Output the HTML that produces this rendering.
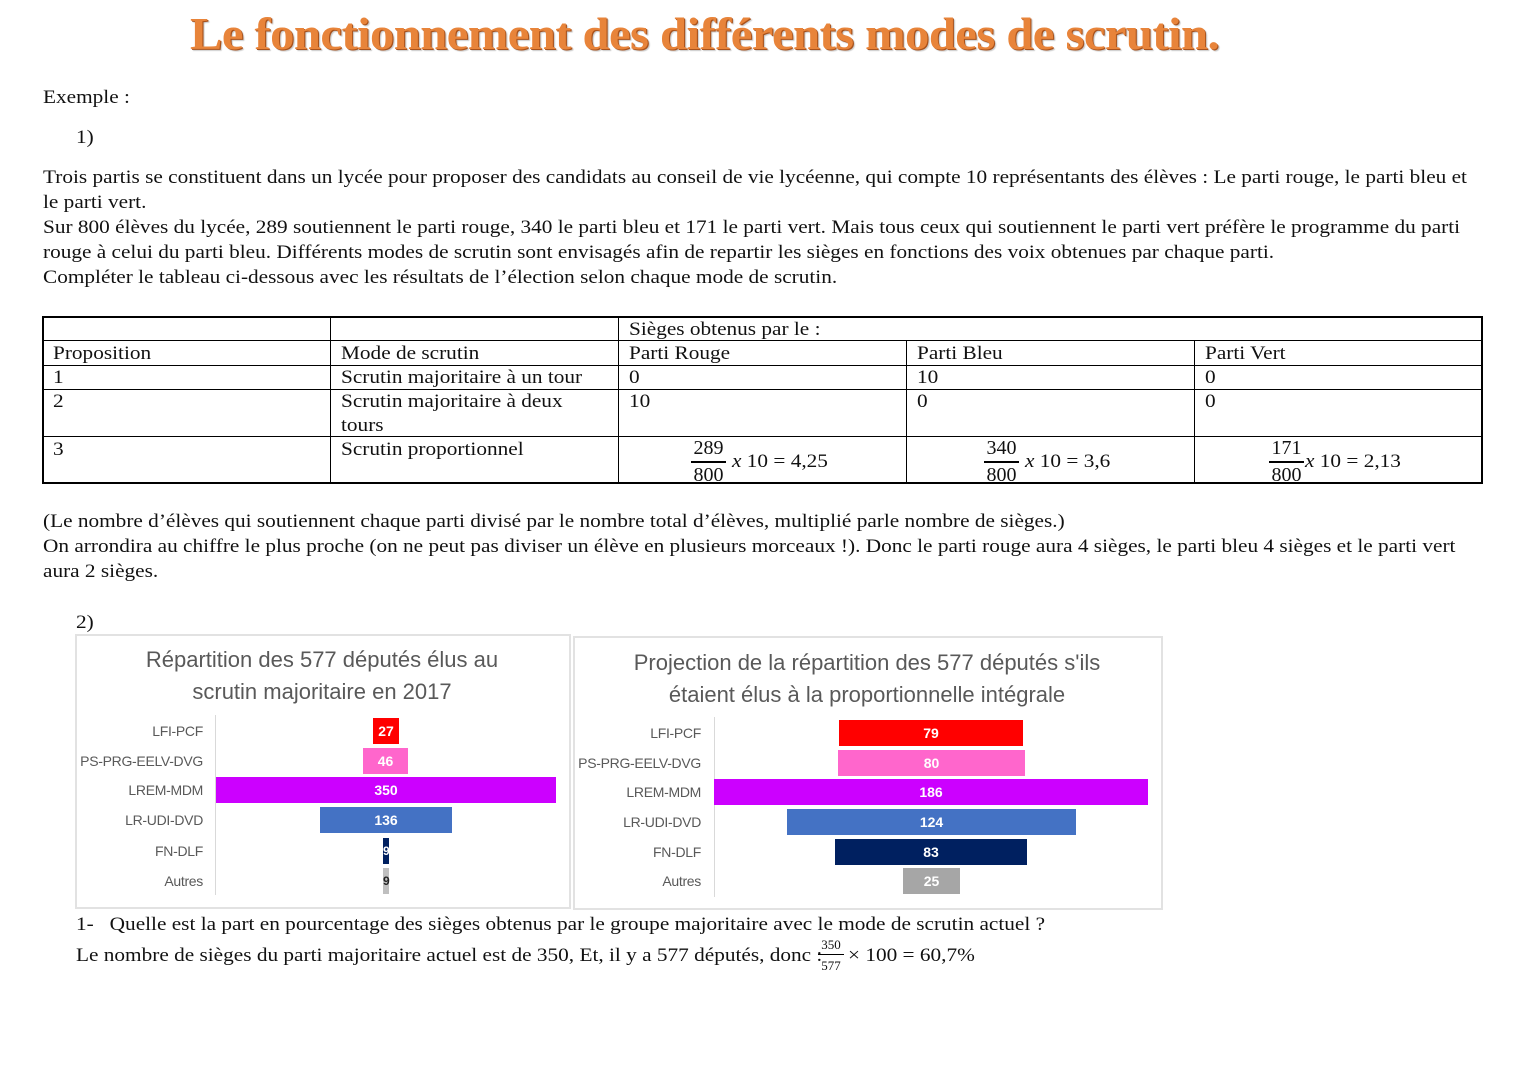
<!DOCTYPE html>
<html><head><meta charset="utf-8"><style>
body{margin:0;width:1527px;height:1080px;background:#fff;position:relative;overflow:hidden;font-family:"Liberation Serif","DejaVu Serif",serif;color:#111;}
.t{position:absolute;font-size:19px;white-space:nowrap;line-height:25px;transform:scaleX(1.12);transform-origin:0 0}
h1{position:absolute;left:190px;top:8px;margin:0;font-family:"Liberation Serif",serif;font-weight:bold;font-size:45px;color:#e8843a;text-shadow:1px 1px 0 #a9521c,2px 2px 1px #c9c9c9;letter-spacing:-0.5px;white-space:nowrap;transform:scaleX(1.08);transform-origin:0 0}
.ln{position:absolute;background:#000}
.cell{position:absolute;font-size:19px;line-height:24px;white-space:nowrap;transform:scaleX(1.12);transform-origin:0 0}
.box{position:absolute;border:2px solid #e2e2e2;background:#fff}
.ct{position:absolute;font-family:"Liberation Sans",sans-serif;color:#595959;font-size:22px;text-align:center;line-height:32px;white-space:nowrap}
.lab{position:absolute;font-family:"Liberation Sans",sans-serif;color:#595959;font-size:14px;text-align:right;line-height:16px;white-space:nowrap;letter-spacing:-0.3px}
.bar{position:absolute;height:26px;color:#fff;font-family:"Liberation Sans",sans-serif;font-size:14px;text-align:center;line-height:26px;font-weight:bold}
.fr{position:absolute;text-align:center;font-size:20px;line-height:22px}
</style></head><body>
<h1>Le fonctionnement des différents modes de scrutin.</h1>
<div class="t" style="left:43px;top:85px">Exemple :</div>
<div class="t" style="left:76px;top:125px">1)</div>
<div class="t" style="left:43px;top:165px">Trois partis se constituent dans un lycée pour proposer des candidats au conseil de vie lycéenne, qui compte 10 représentants des élèves : Le parti rouge, le parti bleu et</div>
<div class="t" style="left:43px;top:190px">le parti vert.</div>
<div class="t" style="left:43px;top:215px">Sur 800 élèves du lycée, 289 soutiennent le parti rouge, 340 le parti bleu et 171 le parti vert. Mais tous ceux qui soutiennent le parti vert préfère le programme du parti</div>
<div class="t" style="left:43px;top:240px">rouge à celui du parti bleu. Différents modes de scrutin sont envisagés afin de repartir les sièges en fonctions des voix obtenues par chaque parti.</div>
<div class="t" style="left:43px;top:265px">Compléter le tableau ci-dessous avec les résultats de l’élection selon chaque mode de scrutin.</div>

<div class="ln" style="left:43px;top:316px;width:1440px;height:2px"></div>
<div class="ln" style="left:43px;top:340px;width:1440px;height:1px"></div>
<div class="ln" style="left:43px;top:365px;width:1440px;height:1px"></div>
<div class="ln" style="left:43px;top:389px;width:1440px;height:1px"></div>
<div class="ln" style="left:43px;top:436px;width:1440px;height:1px"></div>
<div class="ln" style="left:43px;top:482px;width:1440px;height:2px"></div>
<div class="ln" style="left:42px;top:316px;width:2px;height:168px"></div>
<div class="ln" style="left:330px;top:316px;width:1px;height:168px"></div>
<div class="ln" style="left:618px;top:316px;width:1px;height:168px"></div>
<div class="ln" style="left:906px;top:340px;width:1px;height:144px"></div>
<div class="ln" style="left:1194px;top:340px;width:1px;height:144px"></div>
<div class="ln" style="left:1481px;top:316px;width:2px;height:168px"></div>

<div class="cell" style="left:629px;top:318px">Sièges obtenus par le :</div>
<div class="cell" style="left:53px;top:342px">Proposition</div>
<div class="cell" style="left:341px;top:342px">Mode de scrutin</div>
<div class="cell" style="left:629px;top:342px">Parti Rouge</div>
<div class="cell" style="left:917px;top:342px">Parti Bleu</div>
<div class="cell" style="left:1205px;top:342px">Parti Vert</div>
<div class="cell" style="left:53px;top:366px">1</div>
<div class="cell" style="left:341px;top:366px">Scrutin majoritaire à un tour</div>
<div class="cell" style="left:629px;top:366px">0</div>
<div class="cell" style="left:917px;top:366px">10</div>
<div class="cell" style="left:1205px;top:366px">0</div>
<div class="cell" style="left:53px;top:390px">2</div>
<div class="cell" style="left:341px;top:390px">Scrutin majoritaire à deux</div>
<div class="cell" style="left:341px;top:414px">tours</div>
<div class="cell" style="left:629px;top:390px">10</div>
<div class="cell" style="left:917px;top:390px">0</div>
<div class="cell" style="left:1205px;top:390px">0</div>
<div class="cell" style="left:53px;top:438px">3</div>
<div class="cell" style="left:341px;top:438px">Scrutin proportionnel</div>

<div class="fr" style="left:689px;top:437px;width:39px">289</div>
<div class="ln" style="left:691px;top:461px;width:35px;height:2px"></div>
<div class="fr" style="left:689px;top:464px;width:39px">800</div>
<div class="cell" style="left:732px;top:450px"><i>x</i> 10 = 4,25</div>
<div class="fr" style="left:982px;top:437px;width:39px">340</div>
<div class="ln" style="left:984px;top:461px;width:35px;height:2px"></div>
<div class="fr" style="left:982px;top:464px;width:39px">800</div>
<div class="cell" style="left:1025px;top:450px"><i>x</i> 10 = 3,6</div>
<div class="fr" style="left:1267px;top:437px;width:39px">171</div>
<div class="ln" style="left:1269px;top:461px;width:35px;height:2px"></div>
<div class="fr" style="left:1267px;top:464px;width:39px">800</div>
<div class="cell" style="left:1305px;top:450px"><i>x</i> 10 = 2,13</div>

<div class="t" style="left:43px;top:509px">(Le nombre d’élèves qui soutiennent chaque parti divisé par le nombre total d’élèves, multiplié parle nombre de sièges.)</div>
<div class="t" style="left:43px;top:534px">On arrondira au chiffre le plus proche (on ne peut pas diviser un élève en plusieurs morceaux !). Donc le parti rouge aura 4 sièges, le parti bleu 4 sièges et le parti vert</div>
<div class="t" style="left:43px;top:559px">aura 2 sièges.</div>
<div class="t" style="left:76px;top:610px">2)</div>

<div class="box" style="left:75px;top:634px;width:492px;height:271px"></div>
<div class="ct" style="left:77px;top:644px;width:490px">Répartition des 577 députés élus au<br>scrutin majoritaire en 2017</div>
<div class="ln" style="left:215px;top:715px;width:1px;height:180px;background:#d9d9d9"></div>
<div class="lab" style="left:70px;top:723px;width:133px">LFI-PCF</div>
<div class="lab" style="left:70px;top:753px;width:133px">PS-PRG-EELV-DVG</div>
<div class="lab" style="left:70px;top:782px;width:133px">LREM-MDM</div>
<div class="lab" style="left:70px;top:812px;width:133px">LR-UDI-DVD</div>
<div class="lab" style="left:70px;top:843px;width:133px">FN-DLF</div>
<div class="lab" style="left:70px;top:873px;width:133px">Autres</div>
<div class="bar" style="left:373px;top:718px;width:26px;background:#f00">27</div>
<div class="bar" style="left:363px;top:748px;width:45px;background:#ff66cc">46</div>
<div class="bar" style="left:216px;top:777px;width:340px;background:#cc00ff">350</div>
<div class="bar" style="left:320px;top:807px;width:132px;background:#4472c4">136</div>
<div class="bar" style="left:383px;top:838px;width:6px;background:#002060;font-size:12px;overflow:hidden">9</div>
<div class="bar" style="left:383px;top:868px;width:6px;background:#bfbfbf;color:#222;font-size:12px">9</div>

<div class="box" style="left:573px;top:636px;width:586px;height:270px"></div>
<div class="ct" style="left:575px;top:647px;width:584px">Projection de la répartition des 577 députés s'ils<br>étaient élus à la proportionnelle intégrale</div>
<div class="ln" style="left:714px;top:717px;width:1px;height:180px;background:#d9d9d9"></div>
<div class="lab" style="left:565px;top:725px;width:136px">LFI-PCF</div>
<div class="lab" style="left:565px;top:755px;width:136px">PS-PRG-EELV-DVG</div>
<div class="lab" style="left:565px;top:784px;width:136px">LREM-MDM</div>
<div class="lab" style="left:565px;top:814px;width:136px">LR-UDI-DVD</div>
<div class="lab" style="left:565px;top:844px;width:136px">FN-DLF</div>
<div class="lab" style="left:565px;top:873px;width:136px">Autres</div>
<div class="bar" style="left:839px;top:720px;width:184px;background:#f00">79</div>
<div class="bar" style="left:838px;top:750px;width:187px;background:#ff66cc">80</div>
<div class="bar" style="left:714px;top:779px;width:434px;background:#cc00ff">186</div>
<div class="bar" style="left:787px;top:809px;width:289px;background:#4472c4">124</div>
<div class="bar" style="left:835px;top:839px;width:192px;background:#002060">83</div>
<div class="bar" style="left:903px;top:868px;width:57px;background:#a6a6a6">25</div>

<div class="t" style="left:76px;top:912px">1-&nbsp;&nbsp; Quelle est la part en pourcentage des sièges obtenus par le groupe majoritaire avec le mode de scrutin actuel ?</div>
<div class="t" style="left:76px;top:943px">Le nombre de sièges du parti majoritaire actuel est de 350, Et, il y a 577 députés, donc :</div>
<div style="position:absolute;left:817px;top:937px;width:28px;text-align:center;font-size:13px;line-height:15px">350</div>
<div class="ln" style="left:818px;top:954px;width:26px;height:1px"></div>
<div style="position:absolute;left:817px;top:958px;width:28px;text-align:center;font-size:13px;line-height:15px">577</div>
<div class="t" style="left:848px;top:943px">× 100 = 60,7%</div>
</body></html>
